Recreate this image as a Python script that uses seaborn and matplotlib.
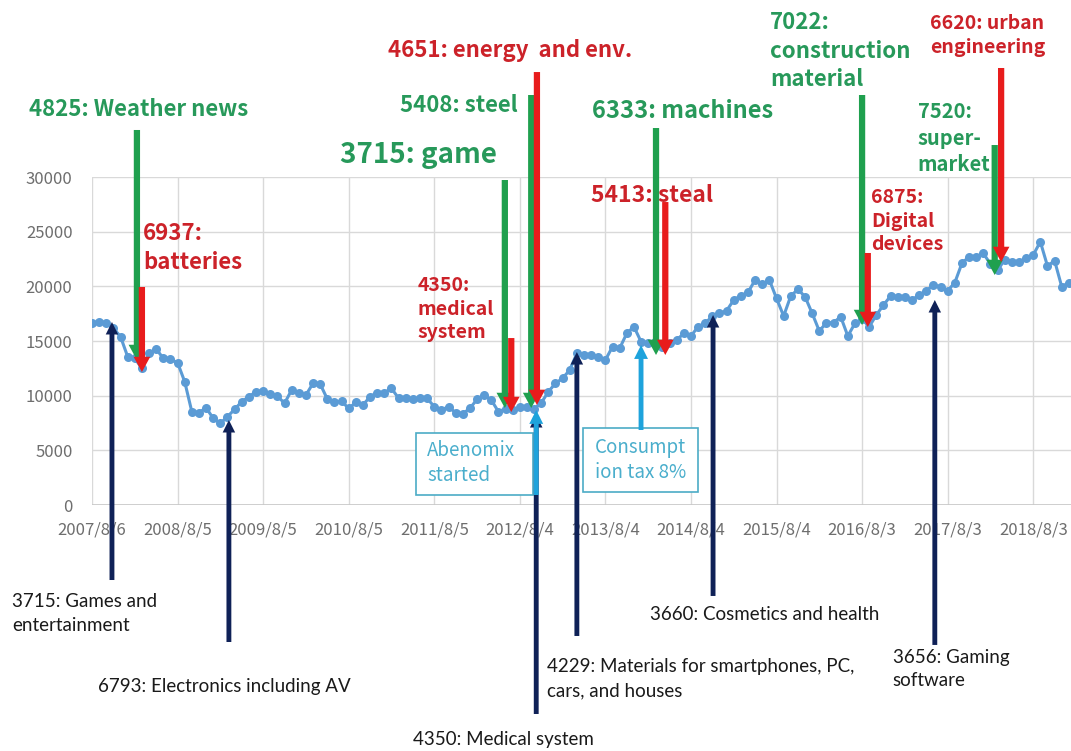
import numpy as np
import pandas as pd
import seaborn as sns
import matplotlib.pyplot as plt
from matplotlib.patches import Rectangle

# monthly closes (first point 2007/8/6)
values = [
  16615, 16770, 16680, 16160, 15400, 13570, 13415, 12500, 13870, 14270, 13415, 13320,
  13020, 11280, 8535, 8440, 8900, 7925, 7470, 8080, 8750, 9450, 9905, 10360,
  10450, 10150, 9970, 9300, 10520, 10215, 10060, 11130, 11065, 9695, 9390, 9480,
  8840, 9380, 9150, 9905, 10270, 10270, 10670, 9760, 9760, 9665, 9760, 9760,
  8990, 8690, 8990, 8440, 8350, 8840, 9665, 10060, 9600, 8535, 8800, 8690,
  8935, 8935, 8800, 9330, 10360, 11130, 11590, 12350, 13870, 13720, 13720, 13565,
  13260, 14480, 14330, 15700, 16310, 14940, 14790, 14900, 14480, 14800, 15090, 15700,
  15450, 16310, 16615, 17285, 17530, 17770, 18750, 19145, 19450, 20580, 20210, 20580,
  18900, 17285, 19115, 19730, 19050, 17530, 15915, 16675, 16675, 17225, 15455, 16615,
  17000, 16310, 17375, 18290, 19115, 19050, 19050, 18750, 19205, 19600, 20120, 19965,
  19600, 20330, 22105, 22715, 22715, 23020, 22050, 21450, 22450, 22255, 22255, 22560,
  22865, 24080, 21860, 22345, 19965, 20330,
]
tick_labels = ['2007/8/6', '2008/8/5', '2009/8/5', '2010/8/5', '2011/8/5', '2012/8/4',
               '2013/8/4', '2014/8/4', '2015/8/4', '2016/8/3', '2017/8/3', '2018/8/3']

# (label, x, arrow top, arrow tip, text x, text y, ha, size)
green_notes = [
  ('4825: Weather news', 6.3, 34300, 13260, -8.8, 36130, 'left', 16),
  ('3715: game', 57.9, 29725, 8870, 56.8, 32010, 'right', 20),
  ('5408: steel', 61.6, 37500, 8870, 59.7, 36585, 'right', 16),
  ('6333: machines', 79.1, 34480, 13720, 70.1, 36035, 'left', 17),
  ('7022:\nconstruction\nmaterial', 108.0, 37500, 16460, 95.1, 41520, 'left', 16),
  ('7520:\nsuper-\nmarket', 126.6, 32925, 21035, 115.8, 33565, 'left', 14.5),
]
red_notes = [
  ('6937:\nbatteries', 7.0, 19940, 12160, 7.15, 23510, 'left', 16),
  ('4350:\nmedical\nsystem', 58.8, 15270, 8500, 45.7, 17925, 'left', 14),
  ('4651: energy  and env.', 62.4, 39600, 9150, 41.5, 41615, 'left', 16),
  ('5413: steal', 80.4, 27710, 13720, 70.0, 28350, 'left', 16.5),
  ('6875:\nDigital\ndevices', 108.8, 23050, 16280, 109.3, 25975, 'left', 14),
  ('6620: urban\nengineering', 127.5, 39970, 22225, 117.5, 42940, 'left', 14),
]
# (label, x, arrow tail, arrow tip, text x, text y)
navy_notes = [
  ('3715: Games and\nentertainment', 2.8, -6860, 16740, -11.2, -9880),
  ('6793: Electronics including AV', 19.2, -12530, 7775, 0.84, -16645),
  ('4350: Medical system', 62.3, -19115, 8230, 45.0, -21490),
  ('4229: Materials for smartphones, PC,\ncars, and houses', 68.0, -11980, 13990, 63.8, -15870),
  ('3660: Cosmetics and health', 87.1, -8320, 17375, 78.3, -10060),
  ('3656: Gaming\nsoftware', 118.2, -12800, 18750, 112.3, -15000),
]
# (label, x, arrow tail, arrow tip, box x0, box x1, box y0, box y1, text x, text y)
event_notes = [
  ('Abenomix\nstarted', 62.3, 915, 8690, 45.4, 61.8, 915, 6585, 47.0, 3840),
  ('Consumpt\nion tax 8%', 77.0, 6860, 14630, 68.9, 85.0, 1190, 7040, 70.5, 4115),
]

GREEN_TXT, GREEN = '#27995a', '#1fa04e'
RED_TXT, RED = '#cc2229', '#e81c1c'
NAVY = '#0f2157'
CYAN, CYAN_TXT = '#1ea3dc', '#4aaecc'

sns.set_theme(style='whitegrid')
plt.rcParams['font.family'] = ['Noto Sans CJK JP', 'DejaVu Sans']

df = pd.DataFrame({'i': np.arange(len(values)), 'v': values})

fig = plt.figure(figsize=(10.71, 7.51), dpi=100)
ax = fig.add_axes([92 / 1071, 246 / 751, 979 / 1071, 328 / 751])
ax.set_axisbelow(True)

sns.lineplot(data=df, x='i', y='v', ax=ax, color='#5b9bd5', linewidth=2.2,
             marker='o', markersize=6.5, markeredgewidth=0, zorder=2)

ax.set_xlim(0, 137.3)
ax.set_ylim(0, 30000)
ax.set_xticks(np.arange(0, len(values), 12))
ax.set_xticklabels(tick_labels)
ax.set_yticks(np.arange(0, 30001, 5000))
ax.set_xlabel('')
ax.set_ylabel('')
ax.grid(True, color='#d9d9d9', linewidth=1)
for s in ax.spines.values():
  s.set_visible(False)
ax.axhline(0, color='#c8c8c8', linewidth=1.2, zorder=1)
ax.tick_params(axis='x', pad=12, length=0, labelsize=12, labelcolor='#6e6e6e')
ax.tick_params(axis='y', pad=14, length=0, labelsize=12, labelcolor='#6e6e6e')

def arrow(x, y0, y1, color, tail, head_w, head_l, z=4):
  ax.annotate('', xy=(x, y1), xytext=(x, y0), annotation_clip=False, zorder=z,
              arrowprops=dict(arrowstyle=f'simple,head_length={head_l},head_width={head_w},tail_width={tail}',
                              color=color, shrinkA=0, shrinkB=0, mutation_scale=10, lw=0))

for label, x, top, tip, tx, ty, ha, size in green_notes:
  arrow(x, top, tip, GREEN, 0.45, 1.2, 1.1)
  ax.text(tx, ty, label, color=GREEN_TXT, fontsize=size, fontweight='bold', ha=ha, va='center',
          linespacing=1.33, clip_on=False)

for label, x, top, tip, tx, ty, ha, size in red_notes:
  arrow(x, top, tip, RED, 0.45, 1.2, 1.1, z=5)
  ax.text(tx, ty, label, color=RED_TXT, fontsize=size, fontweight='bold', ha=ha, va='center',
          linespacing=1.3, clip_on=False)

for label, x, tail, tip, tx, ty in navy_notes:
  arrow(x, tail, tip, NAVY, 0.35, 0.9, 0.9)
  ax.text(tx, ty, label, color='#1a1a1a', fontsize=13.5, ha='left', va='center',
          family=['Lato', 'DejaVu Sans'], linespacing=1.5, clip_on=False)

for label, x, tail, tip, bx0, bx1, by0, by1, tx, ty in event_notes:
  arrow(x, tail, tip, CYAN, 0.35, 1.0, 1.0, z=6)
  ax.add_patch(Rectangle((bx0, by0), bx1 - bx0, by1 - by0, fill=True, facecolor='white',
                         edgecolor='#4bacc6', linewidth=1.2, clip_on=False, zorder=3))
  ax.text(tx, ty, label, color=CYAN_TXT, fontsize=13.5, ha='left', va='center',
          linespacing=1.3, clip_on=False, zorder=3.5)

fig.savefig('out.png', dpi=100)
